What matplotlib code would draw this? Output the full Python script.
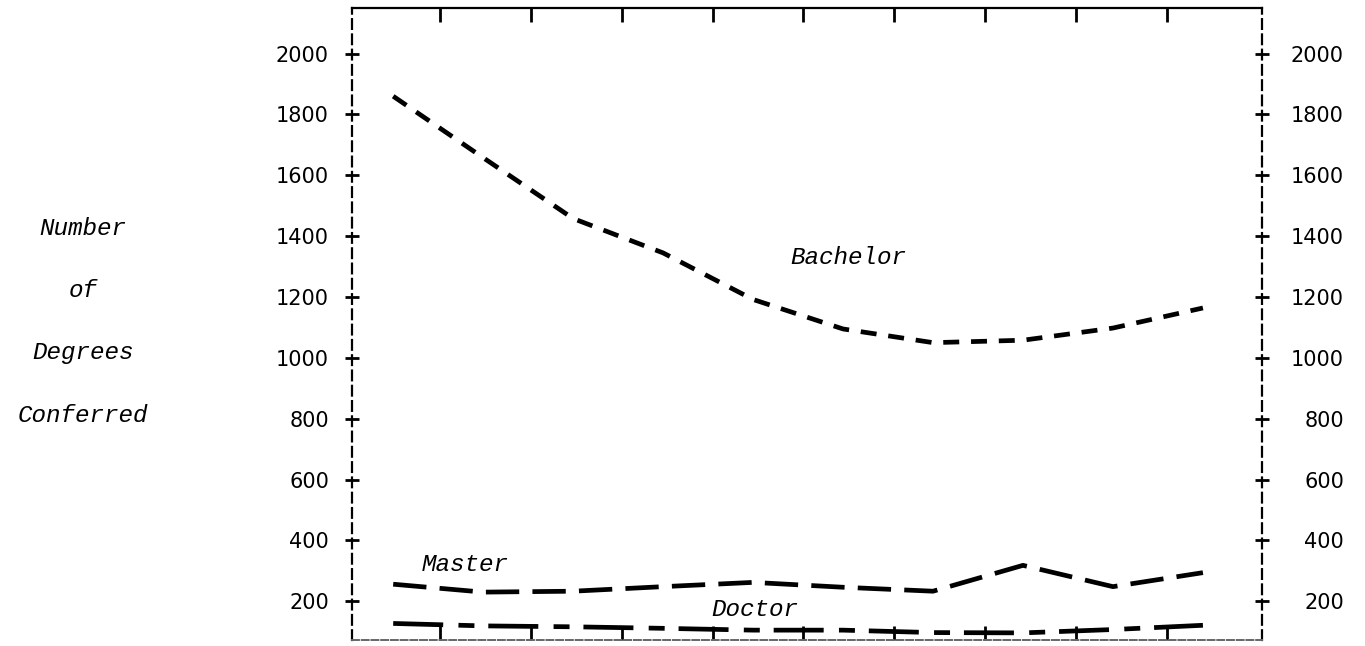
import numpy as np
import matplotlib
matplotlib.use('Agg')
import matplotlib.pyplot as plt

# Degrees conferred per year (10 years)
years = [1, 2, 3, 4, 5, 6, 7, 8, 9, 10]
bachelor = [1860, 1658, 1458, 1345, 1192, 1095, 1050, 1058, 1098, 1164]
master = [256, 230, 233, 248, 262, 246, 233, 318, 248, 294]
doctor = [127, 119, 116, 111, 105, 105, 97, 96, 107, 121]

y_ticks = [200, 400, 600, 800, 1000, 1200, 1400, 1600, 1800, 2000]
ylabel_rows = ['Number', 'of', 'Degrees', 'Conferred']

plt.rcParams['lines.scale_dashes'] = False
ITAL = dict(family='Liberation Mono', style='italic', fontsize=17.5)

fig = plt.figure(figsize=(13.65, 6.46), dpi=100)
ax = fig.add_axes([0.258, 0.009, 0.6665, 0.9786])

ax.plot(years, bachelor, color='black', lw=3.4, dashes=(11.5, 8.5),
        dash_capstyle='butt')
ax.plot(years, master, color='black', lw=3.4, dashes=(24, 9.5),
        dash_capstyle='butt')
ax.plot(years, doctor, color='black', lw=3.4, dashes=(36, 11, 11.5, 10),
        dash_capstyle='butt')

ax.text(5.41, 1331, 'Bachelor', va='center', ha='left', **ITAL)
ax.text(1.32, 322, 'Master', va='center', ha='left', **ITAL)
ax.text(4.54, 174, 'Doctor', va='center', ha='left', **ITAL)

ax.set_xlim(0.544, 10.656)
ax.set_ylim(72, 2150)

# right-side labels, right-aligned to a common edge (twin made first,
# since twinx moves the host's ticks to the left only)
ax2 = ax.twinx()
ax2.set_ylim(ax.get_ylim())
ax2.set_yticks(y_ticks)
ax2.set_yticklabels([str(v) for v in y_ticks], ha='right')
ax2.tick_params(axis='y', right=False, labelright=True, labelsize=15,
                length=0, pad=59)
for s in ax2.spines.values():
    s.set_visible(False)

# spines: dashed sides, solid top, light dashed bottom
for side in ('left', 'right'):
    ax.spines[side].set_linestyle((0, (7, 4)))
    ax.spines[side].set_linewidth(1.6)
ax.spines['top'].set_linewidth(1.6)
ax.spines['bottom'].set_linestyle((0, (5, 2)))
ax.spines['bottom'].set_linewidth(1.4)
ax.spines['bottom'].set_color('#666666')

# x ticks: year boundaries, no labels
ax.set_xticks(np.linspace(1.52, 9.6, 9))
ax.tick_params(axis='x', direction='in', top=True, bottom=True,
               labelbottom=False, labeltop=False, length=10, width=2)

# left y axis, ticks on both sides
ax.set_yticks(y_ticks)
ax.set_yticklabels([str(v) for v in y_ticks])
ax.tick_params(axis='y', direction='inout', left=True, right=True,
               labelleft=True, labelright=False, length=9.5, width=2,
               labelsize=15, pad=12)

# multi-line y label, one word per tick-label row
row_px = [228, 290, 353, 415]
for word, py in zip(ylabel_rows, row_px):
    fig.text(83 / 1365, 1 - py / 646, word, ha='center', va='center', **ITAL)

fig.savefig('out.png', dpi=100)
